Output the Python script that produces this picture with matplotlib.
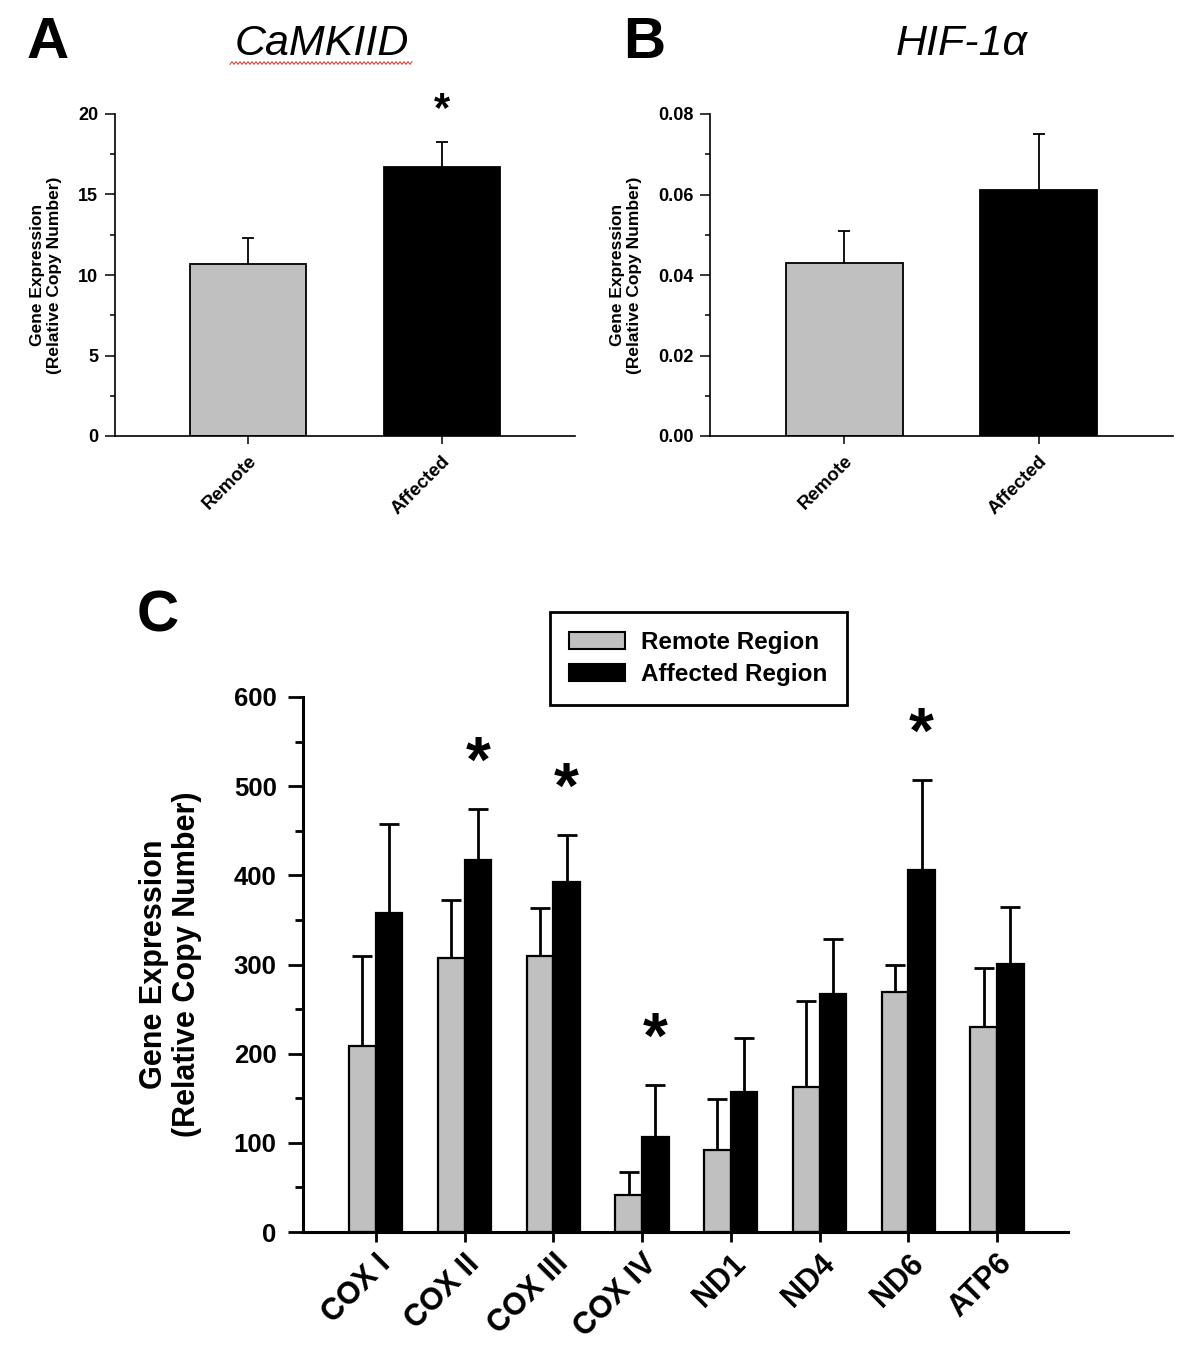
import numpy as np
import matplotlib
matplotlib.use('Agg')
import matplotlib.pyplot as plt
from matplotlib.patches import Patch
from matplotlib.lines import Line2D
from matplotlib.ticker import MultipleLocator

plt.rcParams['font.family'] = ['Liberation Sans', 'DejaVu Sans']

# ---------------- data ----------------
a_title = 'CaMKIID'
a_groups = ['Remote', 'Affected']
a_means = [10.7, 16.7]
a_errs = [1.58, 1.54]
a_sig = [False, True]
a_yticks = [0, 5, 10, 15, 20]

b_title = 'HIF-1α'
b_groups = ['Remote', 'Affected']
b_means = [0.0431, 0.0610]
b_errs = [0.0078, 0.0141]
b_sig = [False, False]
b_yticks = [0.00, 0.02, 0.04, 0.06, 0.08]

c_genes = ['COX I', 'COX II', 'COX III', 'COX IV', 'ND1', 'ND4', 'ND6', 'ATP6']
c_remote = [209, 307, 309, 42, 92, 163, 269, 230]
c_remote_err = [101, 65, 54, 25, 57, 96, 30, 66]
c_affected = [358, 417, 393, 107, 157, 267, 406, 301]
c_affected_err = [100, 57, 52, 58, 61, 62, 101, 64]
c_sig = [False, True, True, True, False, False, True, False]
c_yticks = [0, 100, 200, 300, 400, 500, 600]
c_legend = ['Remote Region', 'Affected Region']

GREY = '#c0c0c0'
W, H = 1200, 1356


def box(l, t, r, b):
    return [l / W, 1 - b / H, (r - l) / W, (b - t) / H]


fig = plt.figure(figsize=(W / 100, H / 100), dpi=100)


def upper_errorbar(ax, x, means, errs, lw, capsize):
    eb = ax.errorbar(x, means, yerr=[np.zeros(len(x)), errs], fmt='none',
                     ecolor='black', elinewidth=lw, capsize=capsize,
                     capthick=lw, zorder=3)
    eb[1][0].set_visible(False)
    return eb


def small_panel(ax, groups, means, errs, yticks, minor_step, fmt, sig,
                label_x):
    x = np.arange(len(groups))
    ax.bar(x, means, width=0.6, color=[GREY, 'black'], edgecolor='black',
           linewidth=1.3, zorder=2)
    upper_errorbar(ax, x, means, errs, 1.3, 4.3)
    ymax = yticks[-1]
    ax.set_xlim(-0.69, 1.69)
    ax.set_ylim(0, ymax)
    for s in ['top', 'right']:
        ax.spines[s].set_visible(False)
    for s in ['left', 'bottom']:
        ax.spines[s].set_linewidth(1.2)
    ax.set_yticks(yticks, labels=[fmt.format(v) for v in yticks],
                  fontweight='bold', fontsize=13)
    ax.yaxis.set_minor_locator(MultipleLocator(minor_step))
    ax.tick_params(axis='y', which='major', direction='out', length=7,
                   width=1.1, pad=5)
    ax.tick_params(axis='y', which='minor', direction='out', length=3.5,
                   width=1.1)
    ax.set_xticks(x, labels=groups, rotation=45, ha='right',
                  rotation_mode='anchor', fontweight='bold', fontsize=13.5)
    ax.tick_params(axis='x', direction='out', length=6, width=1.1, pad=6)
    ax.set_ylabel('Gene Expression\n(Relative Copy Number)', fontsize=12.5,
                  fontweight='bold', linespacing=1.15)
    ax.yaxis.set_label_coords(label_x, 0.5)
    for i, s in enumerate(sig):
        if s:
            ax.text(x[i], means[i] + errs[i] + 0.10 * ymax, '*', ha='center',
                    va='center', fontsize=30, fontweight='bold')


axA = fig.add_axes(box(115, 114, 575, 436))
small_panel(axA, a_groups, a_means, a_errs, a_yticks, 2.5, '{:g}', a_sig,
            -0.115)
axB = fig.add_axes(box(710, 114, 1173, 436))
small_panel(axB, b_groups, b_means, b_errs, b_yticks, 0.01, '{:.2f}', b_sig,
            -0.147)

# ---------------- panel C ----------------
axC = fig.add_axes(box(303, 697, 1068, 1232))
x = np.arange(len(c_genes))
w = 0.3
axC.bar(x - w / 2, c_remote, w, color=GREY, edgecolor='black', linewidth=1.6,
        zorder=2)
axC.bar(x + w / 2, c_affected, w, color='black', edgecolor='black',
        linewidth=1.6, zorder=2)
upper_errorbar(axC, x - w / 2, c_remote, c_remote_err, 2.0, 7.2)
upper_errorbar(axC, x + w / 2, c_affected, c_affected_err, 2.0, 7.2)
axC.set_xlim(-0.82, 7.8)
axC.set_ylim(0, c_yticks[-1])
for s in ['top', 'right']:
    axC.spines[s].set_visible(False)
for s in ['left', 'bottom']:
    axC.spines[s].set_linewidth(2.2)
axC.set_yticks(c_yticks, labels=[str(v) for v in c_yticks], fontweight='bold',
               fontsize=18.5)
axC.yaxis.set_minor_locator(MultipleLocator(50))
axC.tick_params(axis='y', which='major', direction='out', length=11,
                width=2.0, pad=8)
axC.tick_params(axis='y', which='minor', direction='out', length=6,
                width=2.0)
axC.set_xticks(x, labels=c_genes, rotation=45, ha='right',
               rotation_mode='anchor', fontweight='bold', fontsize=22)
axC.tick_params(axis='x', direction='out', length=7, width=2.0, pad=5)
axC.set_ylabel('Gene Expression\n(Relative Copy Number)', fontsize=22,
               fontweight='bold', linespacing=1.12)
axC.yaxis.set_label_coords(-0.132, 0.5)
for i, s in enumerate(c_sig):
    if s:
        top = c_affected[i] + c_affected_err[i]
        axC.text(x[i] + w / 2, top + 0.083 * c_yticks[-1], '*', ha='center',
                 va='center', fontsize=46, fontweight='bold')

handles = [Patch(facecolor=GREY, edgecolor='black', linewidth=1.5),
           Patch(facecolor='black', edgecolor='black', linewidth=1.5)]
leg = fig.legend(handles, c_legend, loc='upper left',
                 bbox_to_anchor=(550 / W, 1 - 612 / H), frameon=True,
                 fancybox=False, edgecolor='black', framealpha=1,
                 prop={'weight': 'bold', 'size': 17.5}, handlelength=2.3,
                 handleheight=0.7, handletextpad=0.65, borderpad=0.8,
                 labelspacing=0.35, borderaxespad=0)
leg.get_frame().set_linewidth(2.0)

# ---------------- titles & panel letters ----------------
fig.text(27 / W, 1 - 58 / H, 'A', fontsize=42, fontweight='bold',
         va='baseline', ha='left')
fig.text(623 / W, 1 - 58 / H, 'B', fontsize=42, fontweight='bold',
         va='baseline', ha='left')
fig.text(137 / W, 1 - 632 / H, 'C', fontsize=42, fontweight='bold',
         va='baseline', ha='left')
fig.text(322 / W, 1 - 55 / H, a_title, fontsize=31, style='italic',
         va='baseline', ha='center')
fig.text(962 / W, 1 - 55 / H, b_title, fontsize=31, style='italic',
         va='baseline', ha='center')

# spell-check squiggle under the first title
sx = np.linspace(230, 412, 92)
sy = 63 + 1.3 * (-1) ** np.arange(len(sx))
fig.add_artist(Line2D(sx / W, 1 - sy / H, transform=fig.transFigure,
                      color='#e0463c', lw=0.8))

fig.savefig('out.png', dpi=100)
